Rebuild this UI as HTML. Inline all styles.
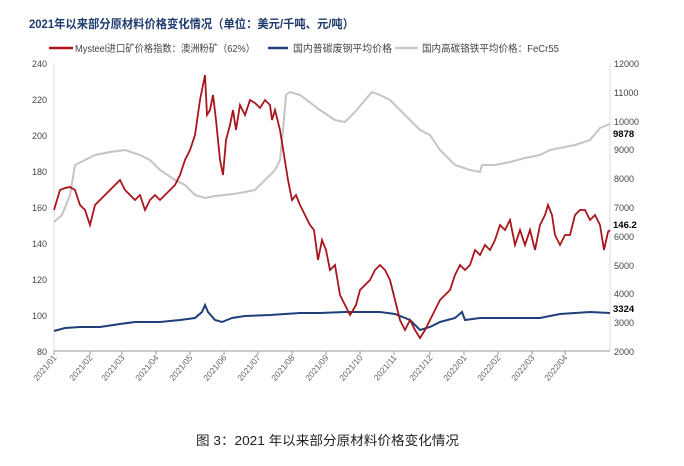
<!DOCTYPE html><html><head><meta charset="utf-8"><style>body{margin:0;background:#fff}svg{display:block}text{font-family:"Liberation Sans","Noto Sans CJK SC",sans-serif}</style></head><body>
<svg width="684" height="466" viewBox="0 0 684 466">
<text x="29" y="28" font-size="12" font-weight="bold" fill="#1f3c6e" textLength="325" lengthAdjust="spacingAndGlyphs">2021年以来部分原材料价格变化情况（单位：美元/千吨、元/吨）</text>
<line x1="49" y1="48" x2="73" y2="48" stroke="#a8151c" stroke-width="2.5"/><text x="75" y="52" font-size="10" fill="#444" textLength="180" lengthAdjust="spacingAndGlyphs">Mysteel进口矿价格指数：澳洲粉矿（62%）</text>
<line x1="268" y1="48" x2="288" y2="48" stroke="#1f3f7a" stroke-width="2.5"/><text x="293" y="52" font-size="10" fill="#444" textLength="99" lengthAdjust="spacingAndGlyphs">国内普碳废钢平均价格</text>
<line x1="395" y1="48" x2="418" y2="48" stroke="#c8c8c8" stroke-width="2.5"/><text x="422" y="52" font-size="10" fill="#444" textLength="137" lengthAdjust="spacingAndGlyphs">国内高碳铬铁平均价格：FeCr55</text>
<g font-size="9" fill="#444">
<text x="47" y="67" text-anchor="end">240</text><text x="47" y="103" text-anchor="end">220</text><text x="47" y="139" text-anchor="end">200</text><text x="47" y="175" text-anchor="end">180</text><text x="47" y="211" text-anchor="end">160</text><text x="47" y="247" text-anchor="end">140</text><text x="47" y="283" text-anchor="end">120</text><text x="47" y="319" text-anchor="end">100</text><text x="47" y="355" text-anchor="end">80</text>
<text x="614" y="67">12000</text><text x="614" y="96">11000</text><text x="614" y="125">10000</text><text x="614" y="153">9000</text><text x="614" y="182">8000</text><text x="614" y="211">7000</text><text x="614" y="240">6000</text><text x="614" y="269">5000</text><text x="614" y="297">4000</text><text x="614" y="326">3000</text><text x="614" y="355">2000</text>
</g>
<line x1="54" y1="63" x2="54" y2="351" stroke="#ddd"/><line x1="610" y1="63" x2="610" y2="351" stroke="#ddd"/>
<text x="613" y="137" font-size="9.5" font-weight="bold" fill="#000">9878</text>
<text x="613" y="228" font-size="9.5" font-weight="bold" fill="#000">146.2</text>
<text x="613" y="312" font-size="9.5" font-weight="bold" fill="#000">3324</text>
<line x1="54" y1="351" x2="610" y2="351" stroke="#999"/>
<g stroke="#999"><line x1="54" y1="351" x2="54" y2="355"/><line x1="90" y1="351" x2="90" y2="355"/><line x1="122" y1="351" x2="122" y2="355"/><line x1="156" y1="351" x2="156" y2="355"/><line x1="190" y1="351" x2="190" y2="355"/><line x1="224" y1="351" x2="224" y2="355"/><line x1="258" y1="351" x2="258" y2="355"/><line x1="292" y1="351" x2="292" y2="355"/><line x1="326" y1="351" x2="326" y2="355"/><line x1="360" y1="351" x2="360" y2="355"/><line x1="394" y1="351" x2="394" y2="355"/><line x1="430" y1="351" x2="430" y2="355"/><line x1="464" y1="351" x2="464" y2="355"/><line x1="498" y1="351" x2="498" y2="355"/><line x1="532" y1="351" x2="532" y2="355"/><line x1="565" y1="351" x2="565" y2="355"/></g>
<g font-size="8.5" fill="#666" text-anchor="end">
<text transform="translate(57,358) rotate(-50)">2021/01</text><text transform="translate(93,358) rotate(-50)">2021/02</text><text transform="translate(125,358) rotate(-50)">2021/03</text><text transform="translate(159,358) rotate(-50)">2021/04</text><text transform="translate(193,358) rotate(-50)">2021/05</text><text transform="translate(227,358) rotate(-50)">2021/06</text><text transform="translate(261,358) rotate(-50)">2021/07</text><text transform="translate(295,358) rotate(-50)">2021/08</text><text transform="translate(329,358) rotate(-50)">2021/09</text><text transform="translate(363,358) rotate(-50)">2021/10</text><text transform="translate(397,358) rotate(-50)">2021/11</text><text transform="translate(433,358) rotate(-50)">2021/12</text><text transform="translate(467,358) rotate(-50)">2022/01</text><text transform="translate(501,358) rotate(-50)">2022/02</text><text transform="translate(535,358) rotate(-50)">2022/03</text><text transform="translate(568,358) rotate(-50)">2022/04</text>
</g>
<polyline fill="none" stroke="#c4c4c4" stroke-width="2" points="54,222 62,215 70,195 75,165 85,160 95,155 110,152 125,150 140,155 150,160 160,170 175,180 185,185 195,195 205,198 215,196 225,195 240,193 255,190 265,180 275,170 280,160 283,130 286,95 290,92 300,95 320,110 335,120 345,122 355,112 365,100 372,92 380,95 390,100 400,110 410,120 420,130 430,135 440,150 455,165 470,170 480,172 482,165 495,165 510,162 525,158 540,155 550,150 565,147 575,145 590,140 600,128 610,124"/>
<polyline fill="none" stroke="#1f3f7a" stroke-width="2" points="54,331 65,328 80,327 100,327 120,324 135,322 160,322 180,320 195,318 202,312 205,305 208,312 215,320 222,322 232,318 245,316 270,315 300,313 320,313 345,312 380,312 395,314 410,320 420,330 430,327 440,322 455,318 462,312 465,320 480,318 510,318 540,318 560,314 590,312 610,313"/>
<polyline fill="none" stroke="#a8151c" stroke-width="1.8" points="54,210 60,190 65,188 70,187 75,190 80,205 85,210 90,225 95,205 100,200 105,195 110,190 115,185 120,180 125,190 130,195 135,200 140,195 145,210 150,200 155,195 160,200 165,195 170,190 175,185 180,175 185,160 190,150 195,135 200,100 203,85 205,75 207,115 210,110 213,95 216,120 220,160 223,175 226,140 230,125 233,110 236,130 240,105 245,115 250,100 255,103 260,108 265,100 270,105 272,120 275,110 280,130 284,155 288,180 292,200 296,195 300,205 305,215 310,225 314,230 318,260 322,240 326,250 330,270 335,265 340,295 345,305 350,315 352,312 356,305 360,290 365,285 370,280 375,270 380,265 385,270 390,280 395,300 400,320 405,330 410,320 415,330 420,338 425,330 430,320 435,310 440,300 445,295 450,290 455,275 460,265 465,270 470,265 475,250 480,255 485,245 490,250 495,240 500,225 505,230 510,220 515,245 520,230 525,245 530,230 535,250 540,225 545,215 548,205 552,215 555,235 560,245 565,235 570,235 575,215 580,210 585,210 590,220 595,215 600,225 604,250 608,232 610,230"/>
<text x="196" y="445" font-size="13" fill="#222" textLength="263" lengthAdjust="spacingAndGlyphs" font-family="'Noto Sans CJK SC',sans-serif">图 3：2021 年以来部分原材料价格变化情况</text>
</svg></body></html>
